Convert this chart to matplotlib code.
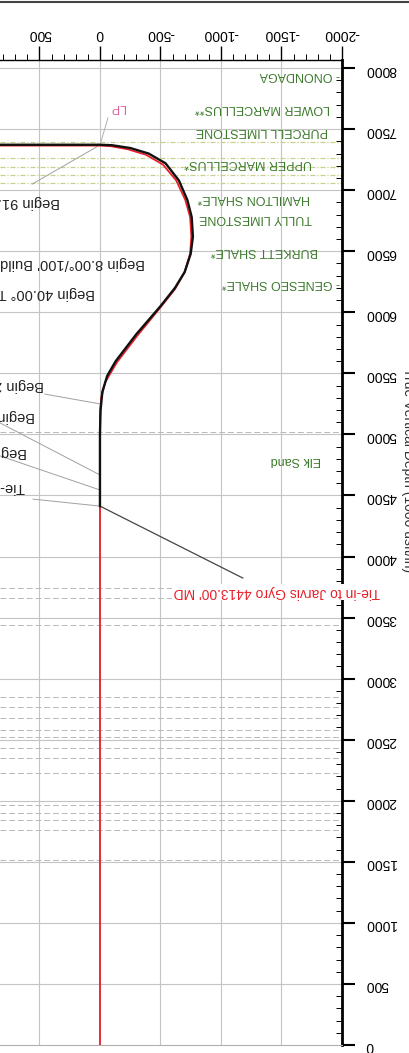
import numpy as np
import matplotlib.pyplot as plt
from matplotlib.ticker import MultipleLocator
from matplotlib.lines import Line2D

plt.rcParams['font.family'] = ['Liberation Sans', 'DejaVu Sans']
plt.rcParams['axes.unicode_minus'] = False

# plan (red) and actual survey (black): vertical section vs true vertical depth, ft
plan_vs = [0, 0, 0, -10, -45, -140, -310, -500, -620, -700, -745, -755, -745, -705, -630, -520, -380, -230, -90, 0, 1000]
plan_tvd = [0, 4413, 5150, 5300, 5430, 5590, 5810, 6040, 6190, 6330, 6480, 6620, 6780, 6920, 7080, 7210, 7290, 7335, 7360, 7365, 7365]
act_vs = [0, 0, -5, -20, -60, -130, -300, -500, -620, -700, -750, -768, -758, -722, -652, -542, -402, -252, -100, 0, 1000]
act_tvd = [4413, 5000, 5200, 5350, 5480, 5600, 5820, 6050, 6200, 6330, 6480, 6620, 6780, 6920, 7080, 7220, 7300, 7345, 7368, 7372, 7372]

# formation tops
form_names = ['- ONONDAGA', 'LOWER MARCELLUS**', 'PURCELL LIMESTONE', 'UPPER MARCELLUS*',
              'HAMILTON SHALE*', 'TULLY LIMESTONE', 'BURKETT SHALE*', '- GENESEO SHALE*', 'Elk Sand']
form_tvd = [7943, 7673, 7484, 7222, 6936, 6772, 6502, 6240, 4790]
form_vs = [-1985, -1900, -1885, -1755, -1735, -1755, -1805, -1985, -1830]

# dashed marker lines across the section
zone_tvd = [7394, 7264, 7190, 7125, 7059]
top_tvd = [5020, 3742, 3660, 3440, 2850, 2768, 2680, 2580, 2522, 2432, 2350, 2227,
           1965, 1900, 1842, 1760, 1515]

# well annotations on the left (text runs off the picture)
note_text = ['Begin 91.00° Lateral Hold', "Begin 8.00°/100' Build / Turn", 'Begin 40.00° Tangent Hold',
             "Begin 2.00°/100' Build", "Begin 1.00°/100' Drop", 'Begin 2.00° Hold', 'Tie-in to Jarvis Gyro']
note_vs = [330, -370, 40, 460, 540, 600, 620]
note_tvd = [6903, 6404, 6158, 5405, 5151, 4856, 4569]
lead_from = [(560, 7050), (455, 5330), (826, 5094), (826, 4824), (553, 4470)]
lead_to = [(0, 7370), (0, 5250), (0, 4668), (0, 4545), (0, 4413)]

fig = plt.figure(figsize=(4.1, 10.53), dpi=100)
ax = fig.add_axes([0, 8 / 1053, 342 / 410, 985 / 1053])
ax.set_xlim(826, -2000)
ax.set_ylim(0, 8066)

for v in [500, 0, -500, -1000, -1500]:
    ax.axvline(v, color='#c4c4c4', lw=0.8, zorder=0)
for d in range(500, 8001, 500):
    ax.axhline(d, color='#c4c4c4', lw=0.8, zorder=0)
for d in top_tvd:
    ax.axhline(d, color='#b8b8b8', lw=0.7, ls=(0, (6, 3)), zorder=0)
for d in zone_tvd:
    ax.axhline(d, color='#c9d08c', lw=0.9, ls=(0, (4, 1.5, 1, 1.5)), zorder=0)

ax.plot(plan_vs, plan_tvd, color='#e8202a', lw=1.3, zorder=3)
ax.plot(act_vs, act_tvd, color='#111111', lw=1.7, zorder=4)

for name, tv, vs in zip(form_names, form_tvd, form_vs):
    ax.text(vs, tv, name, rotation=180, ha='right', va='center', fontsize=9,
            color='#3c7a2c', zorder=5)

for t, vs, tv in zip(note_text, note_vs, note_tvd):
    ax.text(vs, tv, t, rotation=180, ha='right', va='center', fontsize=10.5,
            color='#222222', clip_on=False)
for (x0, y0), (x1, y1) in zip(lead_from, lead_to):
    ax.plot([x0, x1], [y0, y1], color='#a0a0a0', lw=0.7, zorder=2)

# tie-in callout and landing point
ax.plot([0, -1180], [4413, 3824], color='#444444', lw=0.9, zorder=2)
ax.text(-2315, 3710, "Tie-in to Jarvis Gyro 4413.00' MD", rotation=180, ha='right',
        va='center', fontsize=10, color='#e8202a', clip_on=False, zorder=6,
        bbox=dict(facecolor='white', edgecolor='none', pad=1))
ax.plot([-66, 0], [7591, 7370], color='#b0b0b0', lw=0.7, zorder=2)
ax.text(-140, 7680, 'LP', rotation=180, ha='center', va='center', fontsize=9,
        color='#e0609a')

ax.spines['left'].set_visible(False)
ax.spines['bottom'].set_color('#b0b0b0')
ax.spines['bottom'].set_linewidth(0.8)
ax.spines['right'].set_linewidth(2.0)
ax.spines['top'].set_linewidth(1.0)

ax.xaxis.set_major_locator(MultipleLocator(500))
ax.xaxis.set_minor_locator(MultipleLocator(100))
ax.yaxis.set_major_locator(MultipleLocator(500))
ax.yaxis.set_minor_locator(MultipleLocator(100))
ax.xaxis.tick_top()
ax.yaxis.tick_right()
ax.tick_params(axis='x', which='major', direction='out', length=10, width=1.0,
               labelsize=10, labelrotation=180, pad=4)
ax.tick_params(axis='x', which='minor', direction='out', length=4.5, width=0.7)
ax.tick_params(axis='y', which='major', direction='out', length=9, width=1.5,
               labelsize=10, labelrotation=180, pad=8)
ax.tick_params(axis='y', which='minor', direction='in', length=4, width=0.7)
ax.set_xticks([500, 0, -500, -1000, -1500, -2000])
ax.set_yticks(np.arange(0, 8001, 500))

fig.text(408 / 410, 1 - 470 / 1053, 'True Vertical Depth (1000 usft/in)', rotation=270,
         ha='center', va='center', fontsize=10, color='#333333')
fig.add_artist(Line2D([0, 1], [0.998, 0.998], color='#444444', lw=1.5))

fig.savefig('out.png', dpi=100)
